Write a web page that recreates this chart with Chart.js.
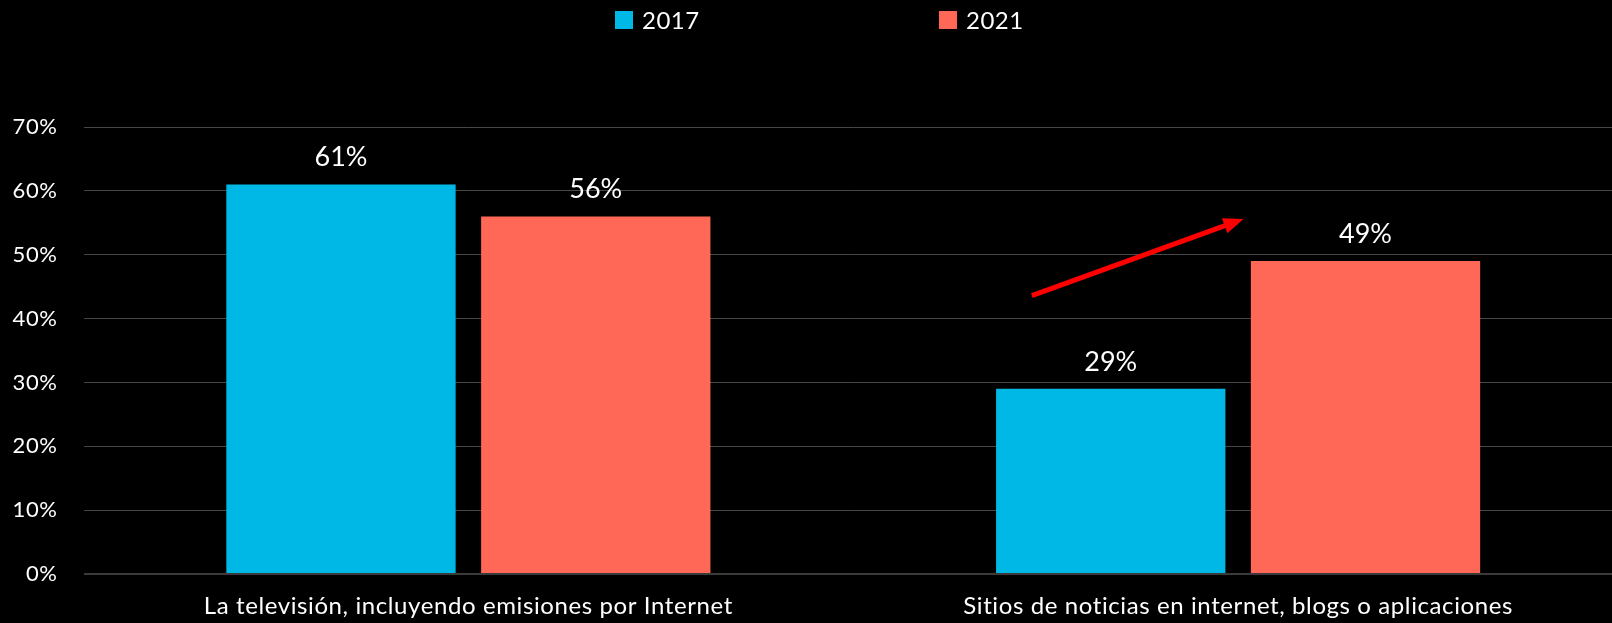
<!DOCTYPE html>
<html>
<head>
<meta charset="utf-8">
<script src="https://cdn.jsdelivr.net/npm/chart.js@4/dist/chart.umd.min.js"></script>
<style>
  html, body { margin:0; padding:0; background:#000; overflow:hidden; }
  #wrap { position:relative; width:1640px; height:623px; }
</style>
</head>
<body>
<div id="wrap"><canvas id="c"></canvas></div>
<script>
const categories = ["La televisión, incluyendo emisiones por Internet", "Sitios de noticias en internet, blogs o aplicaciones"];
const seriesNames = ["2017", "2021"];
const values2017 = [61, 29];
const values2021 = [56, 49];
const yTicks = [0, 10, 20, 30, 40, 50, 60, 70];
const colors = ["#00B8E6", "#FF6857"];

const FONT = "Lato, 'Open Sans', sans-serif";

const spacingPlugin = {
  id: 'tickSpacing',
  beforeDraw(chart) { chart.ctx.letterSpacing = '0.6px'; },
  beforeDatasetsDraw(chart) { chart.ctx.letterSpacing = '0px'; }
};

const legendPlugin = {
  id: 'customLegend',
  afterDraw(chart) {
    const ctx = chart.ctx;
    const items = [{x: 615}, {x: 939}];
    ctx.save();
    ctx.letterSpacing = '0.5px';
    ctx.font = "24px " + FONT;
    ctx.textBaseline = 'middle';
    ctx.textAlign = 'left';
    chart.data.datasets.forEach((ds, i) => {
      const x = items[i].x;
      ctx.fillStyle = ds.backgroundColor;
      ctx.fillRect(x, 11, 18, 18);
      ctx.fillStyle = '#ffffff';
      ctx.fillText(ds.label, x + 27, 21);
    });
    ctx.restore();
  }
};

const labelPlugin = {
  id: 'valueLabels',
  afterDatasetsDraw(chart) {
    const ctx = chart.ctx;
    ctx.save();
    ctx.font = "27px " + FONT;
    ctx.fillStyle = '#ffffff';
    ctx.textAlign = 'center';
    ctx.textBaseline = 'alphabetic';
    chart.data.datasets.forEach((ds, di) => {
      chart.getDatasetMeta(di).data.forEach((bar, i) => {
        ctx.fillText(ds.data[i] + '%', bar.x, bar.y - 18);
      });
    });
    ctx.restore();
  }
};

const arrowPlugin = {
  id: 'arrow',
  afterDatasetsDraw(chart) {
    const xs = chart.scales.x, ys = chart.scales.y;
    const step = xs.getPixelForValue(1) - xs.getPixelForValue(0);
    const x1 = xs.getPixelForValue(1) - 0.268 * step;
    const y1 = ys.getPixelForValue(43.6);
    const x2 = xs.getPixelForValue(1) + 0.007 * step;
    const y2 = ys.getPixelForValue(55.6);
    const ctx = chart.ctx;
    const ang = Math.atan2(y2 - y1, x2 - x1);
    const headLen = 20, headW = 8;
    ctx.save();
    ctx.strokeStyle = '#FF0000';
    ctx.fillStyle = '#FF0000';
    ctx.lineWidth = 5;
    ctx.beginPath();
    ctx.moveTo(x1, y1);
    ctx.lineTo(x2 - headLen * 0.8 * Math.cos(ang), y2 - headLen * 0.8 * Math.sin(ang));
    ctx.stroke();
    const bx = x2 - headLen * Math.cos(ang), by = y2 - headLen * Math.sin(ang);
    ctx.beginPath();
    ctx.moveTo(x2, y2);
    ctx.lineTo(bx + headW * Math.sin(ang), by - headW * Math.cos(ang));
    ctx.lineTo(bx - headW * Math.sin(ang), by + headW * Math.cos(ang));
    ctx.closePath();
    ctx.fill();
    ctx.restore();
  }
};

new Chart(document.getElementById('c'), {
  type: 'bar',
  data: {
    labels: categories,
    datasets: [
      { label: seriesNames[0], data: values2017, backgroundColor: colors[0] },
      { label: seriesNames[1], data: values2021, backgroundColor: colors[1] }
    ]
  },
  options: {
    responsive: true,
    maintainAspectRatio: false,
    animation: false,
    categoryPercentage: 0.662,
    barPercentage: 0.9,
    layout: { padding: { top: 127, right: 17, left: 0, bottom: 0 } },
    plugins: { legend: { display: false }, tooltip: { enabled: false } },
    scales: {
      x: {
        grid: { display: false, drawTicks: false },
        border: { display: false },
        ticks: { color: '#ffffff', font: { family: FONT, size: 24 }, padding: 18, maxRotation: 0, autoSkip: false },
        afterFit(s) { s.height = 49; }
      },
      y: {
        min: 0, max: 70,
        afterBuildTicks(s) { s.ticks = yTicks.map(v => ({ value: v })); },
        grid: {
          drawTicks: false,
          color: c => c.tick && c.tick.value === 0 ? '#3a3a3a' : '#474747',
          lineWidth: c => c.tick && c.tick.value === 0 ? 2 : 1
        },
        border: { display: false },
        ticks: { color: '#ffffff', font: { family: FONT, size: 22 }, padding: 26, callback: v => v + '%' },
        afterFit(s) { s.width = 83.5; }
      }
    }
  },
  plugins: [spacingPlugin, legendPlugin, labelPlugin, arrowPlugin]
});
</script>
</body>
</html>
